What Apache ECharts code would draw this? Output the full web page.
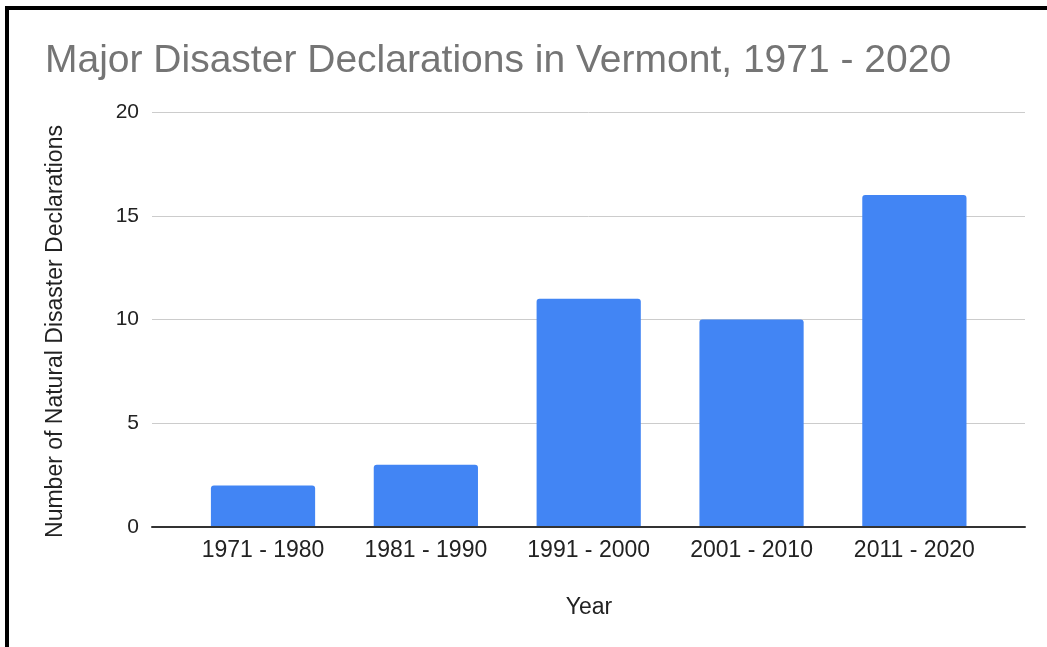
<!DOCTYPE html>
<html>
<head>
<meta charset="utf-8">
<script src="https://cdn.jsdelivr.net/npm/echarts@6/dist/echarts.min.js"></script>
<style>
html,body{margin:0;padding:0;background:#fff;}
#chart{width:1047px;height:647px;}
</style>
</head>
<body>
<div id="chart"></div>
<script>
var titleText = 'Major Disaster Declarations in Vermont, 1971 - 2020';
var xAxisTitle = 'Year';
var yAxisTitle = 'Number of Natural Disaster Declarations';
var categories = ['1971 - 1980', '1981 - 1990', '1991 - 2000', '2001 - 2010', '2011 - 2020'];
var declarations = [2, 3, 11, 10, 16];
var yMin = 0, yMax = 20, yInterval = 5;

var FONT = '"Liberation Sans", Arial, sans-serif';
var chart = echarts.init(document.getElementById('chart'), null, {renderer: 'canvas'});
chart.setOption({
  animation: false,
  backgroundColor: '#fff',
  title: {
    text: titleText, left: 45, top: 42, padding: 0,
    textStyle: {fontFamily: FONT, fontSize: 39, fontWeight: 'normal', color: '#757575'}
  },
  grid: [
    {left: 152, right: 22, top: 112, bottom: 120, containLabel: false},
    {left: 181.6, right: 51.2, top: 112, bottom: 120, containLabel: false}
  ],
  xAxis: [
    {type: 'category', gridIndex: 0, data: categories, axisTick: {show: false}, axisLabel: {show: false},
     axisLine: {show: true, lineStyle: {color: '#333', width: 2}}, splitLine: {show: false}, z: 5},
    {type: 'category', gridIndex: 1, data: categories, boundaryGap: true, axisTick: {show: false},
     axisLine: {show: false}, splitLine: {show: false},
     axisLabel: {margin: 12, fontFamily: FONT, fontSize: 23, color: '#222'}}
  ],
  yAxis: [
    {type: 'value', gridIndex: 0, min: yMin, max: yMax, interval: yInterval,
     axisLine: {show: false}, axisTick: {show: false},
     axisLabel: {margin: 13, fontFamily: FONT, fontSize: 21, color: '#222', padding: [4, 0, 0, 0]},
     splitLine: {show: true, lineStyle: {color: '#cccccc', width: 1}}},
    {type: 'value', gridIndex: 1, min: yMin, max: yMax, interval: yInterval, show: false,
     splitLine: {show: false}}
  ],
  series: [{
    type: 'bar', xAxisIndex: 1, yAxisIndex: 1, data: declarations, barWidth: '64%',
    itemStyle: {color: '#4285F4', borderRadius: [3, 3, 0, 0]}, z: 3
  }],
  graphic: [
    {type: 'rect', shape: {x: 5, y: 6, width: 1042, height: 4}, style: {fill: '#000'}, z: 100},
    {type: 'rect', shape: {x: 5, y: 6, width: 4, height: 641}, style: {fill: '#000'}, z: 100},
    {type: 'text', x: 589, y: 608, style: {text: xAxisTitle, fontFamily: FONT, fontSize: 23, fill: '#222', align: 'center', verticalAlign: 'middle'}},
    {type: 'text', x: 56, y: 331.5, rotation: Math.PI / 2, style: {text: yAxisTitle, fontFamily: FONT, fontSize: 23, fill: '#222', align: 'center', verticalAlign: 'middle'}}
  ]
});
</script>
</body>
</html>
